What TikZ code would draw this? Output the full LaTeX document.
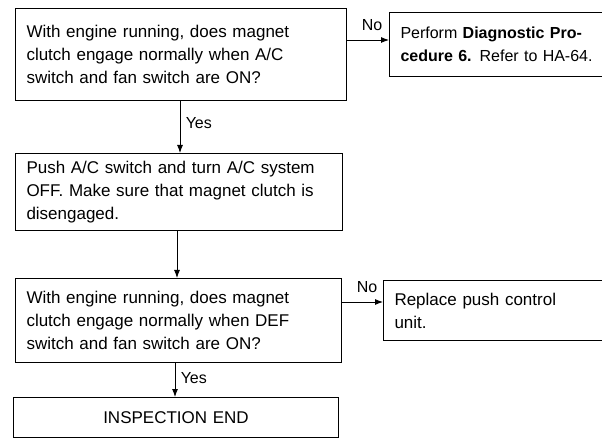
\documentclass[tikz,border=0pt]{standalone}
\usepackage{fontspec}
\setmainfont{Liberation Sans}
\usetikzlibrary{arrows.meta, positioning}

\begin{document}
\begin{tikzpicture}[x=1bp, y=-1bp,
        every node/.style={font=\fontsize{17bp}{23bp}\selectfont},
        box/.style={draw, line width=1bp, anchor=north west, align=left, inner xsep=11bp},
        lbl/.style={font=\fontsize{16bp}{18bp}\selectfont},
        every path/.style={line width=0.9bp}]
            \useasboundingbox (0,0) rectangle (602,438);
            % checks on the left, results on the right
            \node[box, text width=230bp, minimum height=64bp,
                font=\fontsize{16bp}{23bp}\selectfont] (r1) at (389,12)
                {Perform \textbf{Diagnostic Pro-}\\\textbf{cedure 6.} Refer to HA-64.};
            \node[box, text width=309bp, minimum height=92bp] (q1) at (15,8)
                {With engine running, does magnet\\clutch engage normally when A/C\\switch and fan switch are ON?};
            \node[box, text width=305bp, minimum height=77bp] (s1) at (15,153)
                {Push A/C switch and turn A/C system\\OFF. Make sure that magnet clutch is\\disengaged.};
            \node[box, text width=220bp, minimum height=60bp] (r2) at (383,280)
                {Replace push control\\unit.};
            \node[box, text width=304bp, minimum height=84bp] (q2) at (15,278)
                {With engine running, does magnet\\clutch engage normally when DEF\\switch and fan switch are ON?};
            \node[box, align=center, text width=303bp, minimum height=40bp] (e1) at (13,397)
                {INSPECTION END};
            \coordinate (n1) at ([yshift=-32bp]q1.north east);
            \coordinate (n2) at ([yshift=-24bp]q2.north east);
            \coordinate (y1) at ([xshift=165bp]q1.south west);
            \coordinate (y2) at ([xshift=162bp]s1.south west);
            \coordinate (y3) at ([xshift=160bp]q2.south west);
            \begin{scope}[every path/.append style={-{Latex[length=8bp,width=6bp]}}]
                \draw (n1) --(n1 -| r1.west);
                \draw (n2) --(n2 -| r2.west);
                \draw (y1) --(y1 |- s1.north);
                \draw (y2) --(y2 |- q2.north);
                \draw (y3) --(y3 |- e1.north);
            \end{scope}
            \node[lbl, anchor=south west] (no1) at ([xshift=11bp,yshift=6bp]n1) {No};
            \node[lbl, anchor=south west] (no2) at ([xshift=11bp,yshift=6bp]n2) {No};
            \node[lbl, anchor=west] (yes1) at ([xshift=2bp,yshift=-22bp]y1) {Yes};
            \node[lbl, anchor=west] (yes2) at ([xshift=2bp,yshift=-15bp]y3) {Yes};
        \end{tikzpicture}
\end{document}
